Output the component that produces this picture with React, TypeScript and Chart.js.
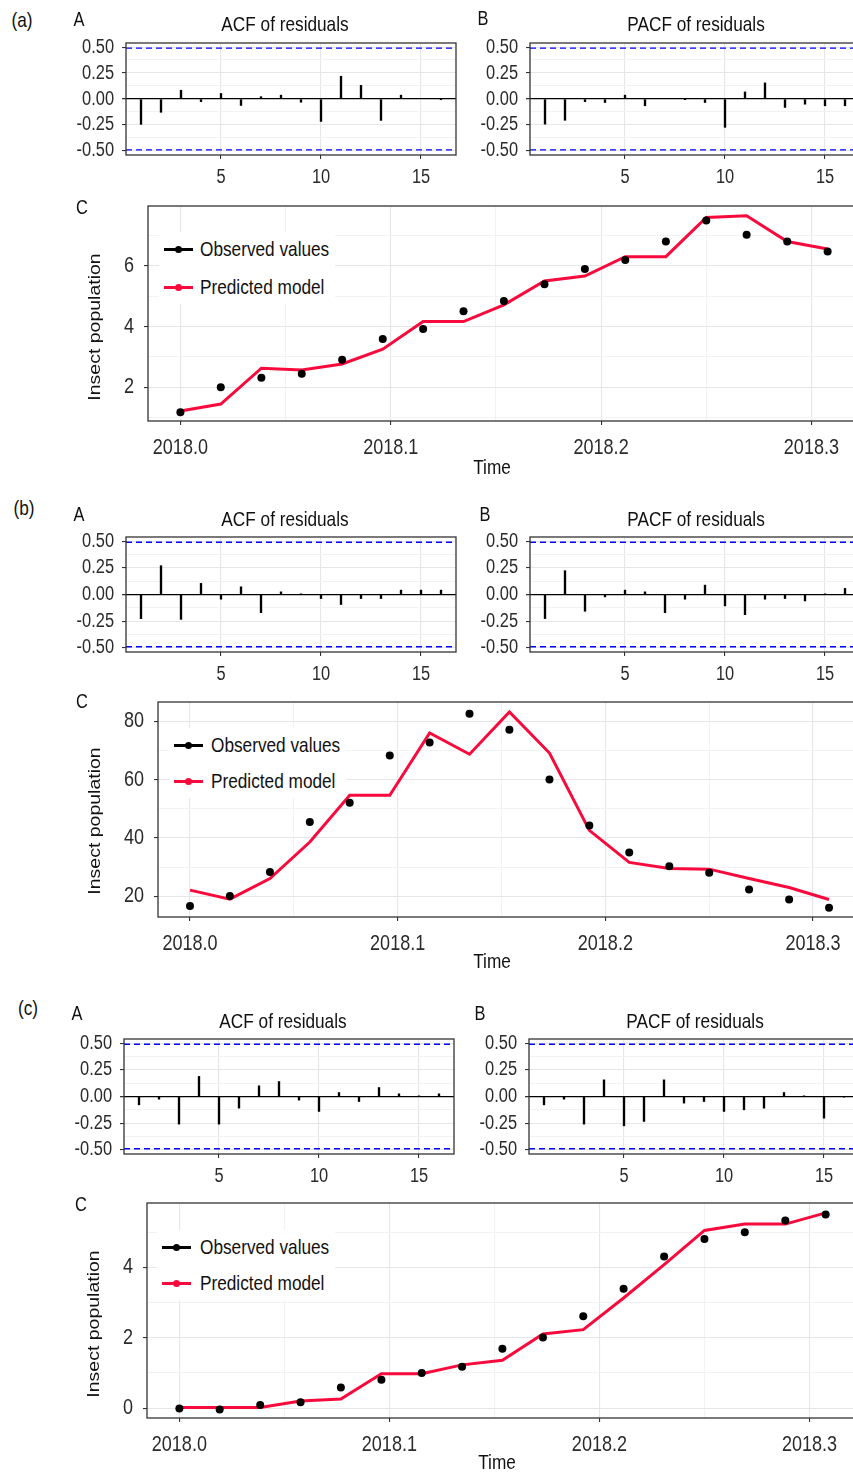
import React, { useEffect, useRef } from "react";
import { Chart, registerables } from "chart.js";

Chart.register(...registerables);

// ---------------- data ----------------
const LAGS = [1, 2, 3, 4, 5, 6, 7, 8, 9, 10, 11, 12, 13, 14, 15, 16];

const ACF_A = [-0.244, -0.128, 0.084, -0.025, 0.053, -0.062, 0.022, 0.037, -0.031, -0.216, 0.219, 0.131, -0.206, 0.037, 0.004, -0.003];
const PACF_A = [-0.242, -0.205, -0.025, -0.034, 0.037, -0.065, 0.003, -0.003, -0.034, -0.273, 0.068, 0.155, -0.081, -0.05, -0.065, -0.065];
const ACF_B = [-0.226, 0.27, -0.233, 0.104, -0.044, 0.072, -0.17, 0.025, 0.004, -0.038, -0.094, -0.038, -0.038, 0.041, 0.041, 0.041];
const PACF_B = [-0.226, 0.223, -0.157, -0.022, 0.041, 0.025, -0.17, -0.044, 0.088, -0.107, -0.189, -0.044, -0.038, -0.06, 0.003, 0.057];
const ACF_C = [-0.078, -0.025, -0.259, 0.188, -0.259, -0.109, 0.1, 0.14, -0.034, -0.14, 0.037, -0.047, 0.084, 0.025, 0.003, 0.025];
const PACF_C = [-0.078, -0.025, -0.259, 0.156, -0.275, -0.234, 0.156, -0.062, -0.047, -0.14, -0.125, -0.109, 0.037, 0.003, -0.203, -0.003];

const CI = 0.49;
const ACF_X_MIN = 0.25;
const ACF_X_MAX = 16.75;
const ACF_Y_LIM = 0.539;
const ACF_X_TICKS = [5, 10, 15];
const ACF_X_LABELS = ["5", "10", "15"];
const ACF_Y_TICKS = [-0.5, -0.375, -0.25, -0.125, 0, 0.125, 0.25, 0.375, 0.5];
const ACF_Y_LABELS = ["-0.50", "", "-0.25", "", "0.00", "", "0.25", "", "0.50"];

const TIME = [2018.0, 2018.0192, 2018.0385, 2018.0577, 2018.0769, 2018.0962, 2018.1154, 2018.1346, 2018.1538, 2018.1731, 2018.1923, 2018.2115, 2018.2308, 2018.25, 2018.2692, 2018.2885, 2018.3077];
const TIME_MIN = 2017.9846;
const TIME_MAX = 2018.3231;
const TIME_TICKS = [2018.0, 2018.05, 2018.1, 2018.15, 2018.2, 2018.25, 2018.3];
const TIME_LABELS = ["2018.0", "", "2018.1", "", "2018.2", "", "2018.3"];

const OBS_A = [1.18, 2.0, 2.32, 2.45, 2.91, 3.59, 3.92, 4.51, 4.85, 5.4, 5.9, 6.2, 6.81, 7.5, 7.03, 6.81, 6.48];
const PRED_A = [1.22, 1.45, 2.63, 2.57, 2.77, 3.26, 4.17, 4.17, 4.72, 5.51, 5.67, 6.31, 6.31, 7.6, 7.66, 6.81, 6.56];
const OBS_B = [16.7, 20.1, 28.3, 45.5, 52.1, 68.3, 72.7, 82.6, 77.1, 60.0, 44.3, 35.0, 30.3, 28.1, 22.3, 18.9, 16.1];
const PRED_B = [22.1, 19.0, 26.1, 38.6, 54.6, 54.6, 76.0, 68.7, 83.2, 69.1, 42.6, 31.6, 29.5, 29.3, 26.1, 23.0, 18.9];
const OBS_C = [-0.01, -0.04, 0.09, 0.17, 0.59, 0.81, 1.0, 1.18, 1.69, 2.01, 2.61, 3.39, 4.31, 4.81, 5.0, 5.33, 5.5];
const PRED_C = [0.02, 0.02, 0.02, 0.2, 0.26, 0.98, 0.98, 1.23, 1.36, 2.11, 2.23, 3.13, 4.08, 5.05, 5.23, 5.23, 5.55];

const TS_A_YTICKS = [1, 2, 3, 4, 5, 6, 7];
const TS_A_YLABELS = ["", "2", "", "4", "", "6", ""];
const TS_B_YTICKS = [20, 30, 40, 50, 60, 70, 80];
const TS_B_YLABELS = ["20", "", "40", "", "60", "", "80"];
const TS_C_YTICKS = [0, 1, 2, 3, 4, 5];
const TS_C_YLABELS = ["0", "", "2", "", "4", ""];

const SERIES_NAMES = ["Observed values", "Predicted model"];

// ---------------- style ----------------
const FONT = "'Liberation Sans', Arial, sans-serif";
const SX = 0.82; // horizontal condensing of the reference lettering
const RED = "#f80a3c";
const GRID_MAJOR = "#e6e6e6";
const GRID_MINOR = "#f2f2f2";
const AXIS = "#333333";
const TICK_TEXT = "#2b2b2b";
const TITLE_TEXT = "#111111";

const YW = 70; // y-axis width in canvas
const PT = 26; // top padding
const PR = 10; // right padding
const XH = 44; // x-axis height

type Area = { L: number; T: number; R: number; B: number };

const framePlugin = {
  id: "frame",
  afterDatasetsDraw(chart: any) {
    const { ctx, chartArea: a } = chart;
    ctx.save();
    ctx.strokeStyle = AXIS;
    ctx.lineWidth = 1.3;
    ctx.strokeRect(a.left, a.top, a.right - a.left, a.bottom - a.top);
    ctx.restore();
  },
};

// condensed tick labels, placed through the chart's own scales
function labelsPlugin(cfg: {
  size: number;
  xTicks: number[];
  xLabels: string[];
  yTicks: number[];
  yLabels: string[];
  xGap: number;
  yGap: number;
}) {
  return {
    id: "condensedLabels",
    afterDraw(chart: any) {
      const { ctx, chartArea: a } = chart;
      const xs = chart.scales.x;
      const ys = chart.scales.y;
      ctx.save();
      ctx.fillStyle = TICK_TEXT;
      ctx.font = `${cfg.size}px ${FONT}`;
      ctx.textBaseline = "middle";
      ctx.textAlign = "right";
      cfg.yTicks.forEach((v, i) => {
        const lab = cfg.yLabels[i];
        if (!lab) return;
        ctx.save();
        ctx.translate(a.left - cfg.yGap, ys.getPixelForValue(v));
        ctx.scale(SX, 1);
        ctx.fillText(lab, 0, 0);
        ctx.restore();
      });
      ctx.textAlign = "center";
      cfg.xTicks.forEach((v, i) => {
        const lab = cfg.xLabels[i];
        if (!lab) return;
        ctx.save();
        ctx.translate(xs.getPixelForValue(v), a.bottom + cfg.xGap);
        ctx.scale(SX, 1);
        ctx.fillText(lab, 0, 0);
        ctx.restore();
      });
      ctx.restore();
    },
  };
}

function yScale(min: number, max: number, ticks: number[], labels: string[], zeroBlack: boolean) {
  return {
    type: "linear",
    min,
    max,
    afterBuildTicks: (s: any) => {
      s.ticks = ticks.map((v) => ({ value: v }));
    },
    afterFit: (s: any) => {
      s.width = YW;
    },
    border: { display: false },
    grid: {
      color: (c: any) => {
        const v = c.tick ? c.tick.value : NaN;
        const i = ticks.indexOf(v);
        if (zeroBlack && v === 0) return "#000";
        return i >= 0 && labels[i] !== "" ? GRID_MAJOR : GRID_MINOR;
      },
      lineWidth: (c: any) => (zeroBlack && c.tick && c.tick.value === 0 ? 1.3 : 1.1),
      tickColor: (c: any) => {
        const i = ticks.indexOf(c.tick ? c.tick.value : NaN);
        return i >= 0 && labels[i] !== "" ? AXIS : "rgba(0,0,0,0)";
      },
      tickLength: 4,
      drawTicks: true,
    },
    ticks: { display: false, autoSkip: false },
  };
}

function acfConfig(values: number[]) {
  return {
    type: "bar",
    data: {
      datasets: [
        {
          type: "bar",
          data: LAGS.map((l, i) => ({ x: l, y: values[i] })),
          backgroundColor: "#000",
          borderWidth: 0,
          barThickness: 1.7,
          grouped: false,
        },
        {
          type: "line",
          data: [
            { x: ACF_X_MIN, y: CI },
            { x: ACF_X_MAX, y: CI },
          ],
          borderColor: "#0000ff",
          borderWidth: 1.4,
          borderDash: [6, 4],
          pointRadius: 0,
        },
        {
          type: "line",
          data: [
            { x: ACF_X_MIN, y: -CI },
            { x: ACF_X_MAX, y: -CI },
          ],
          borderColor: "#0000ff",
          borderWidth: 1.4,
          borderDash: [6, 4],
          pointRadius: 0,
        },
      ],
    },
    options: {
      responsive: false,
      animation: false,
      layout: { padding: { top: PT, right: PR, left: 0, bottom: 0 } },
      plugins: { legend: { display: false }, tooltip: { enabled: false } },
      scales: {
        x: {
          type: "linear",
          min: ACF_X_MIN,
          max: ACF_X_MAX,
          offset: false,
          afterBuildTicks: (s: any) => {
            s.ticks = ACF_X_TICKS.map((v) => ({ value: v }));
          },
          afterFit: (s: any) => {
            s.height = XH;
          },
          border: { display: false },
          grid: { color: GRID_MAJOR, lineWidth: 1.1, tickColor: AXIS, tickLength: 4, offset: false },
          ticks: { display: false, autoSkip: false },
        },
        y: yScale(-ACF_Y_LIM, ACF_Y_LIM, ACF_Y_TICKS, ACF_Y_LABELS, true),
      },
    },
    plugins: [
      framePlugin,
      labelsPlugin({
        size: 20,
        xTicks: ACF_X_TICKS,
        xLabels: ACF_X_LABELS,
        yTicks: ACF_Y_TICKS,
        yLabels: ACF_Y_LABELS,
        xGap: 22,
        yGap: 12,
      }),
    ],
  };
}

function tsConfig(obs: number[], pred: number[], yMin: number, yMax: number, yTicks: number[], yLabels: string[]) {
  return {
    type: "line",
    data: {
      datasets: [
        {
          label: SERIES_NAMES[0],
          data: TIME.map((t, i) => ({ x: t, y: obs[i] })),
          showLine: false,
          pointRadius: 4,
          pointBackgroundColor: "#000",
          pointBorderWidth: 0,
          borderColor: "#000",
        },
        {
          label: SERIES_NAMES[1],
          data: TIME.map((t, i) => ({ x: t, y: pred[i] })),
          borderColor: RED,
          borderWidth: 3,
          pointRadius: 0,
          tension: 0,
        },
      ],
    },
    options: {
      responsive: false,
      animation: false,
      layout: { padding: { top: PT, right: PR, left: 0, bottom: 0 } },
      plugins: { legend: { display: false }, tooltip: { enabled: false } },
      scales: {
        x: {
          type: "linear",
          min: TIME_MIN,
          max: TIME_MAX,
          offset: false,
          afterBuildTicks: (s: any) => {
            s.ticks = TIME_TICKS.map((v) => ({ value: v }));
          },
          afterFit: (s: any) => {
            s.height = XH;
          },
          border: { display: false },
          grid: {
            color: (c: any) => (TIME_LABELS[c.index] ? GRID_MAJOR : GRID_MINOR),
            lineWidth: 1.1,
            tickColor: (c: any) => (TIME_LABELS[c.index] ? AXIS : "rgba(0,0,0,0)"),
            tickLength: 4,
          },
          ticks: { display: false, autoSkip: false },
        },
        y: yScale(yMin, yMax, yTicks, yLabels, false),
      },
    },
    plugins: [
      framePlugin,
      labelsPlugin({
        size: 22,
        xTicks: TIME_TICKS,
        xLabels: TIME_LABELS,
        yTicks,
        yLabels,
        xGap: 27,
        yGap: 14,
      }),
    ],
  };
}

// ---------------- components ----------------
function Plot({ area, config }: { area: Area; config: () => any }) {
  const ref = useRef<HTMLCanvasElement>(null);
  const left = area.L - YW;
  const top = area.T - PT;
  const width = area.R - area.L + YW + PR;
  const height = area.B - area.T + PT + XH;
  useEffect(() => {
    const chart = new Chart(ref.current as HTMLCanvasElement, config());
    return () => chart.destroy();
  }, []);
  return (
    <canvas
      ref={ref}
      width={width}
      height={height}
      style={{ position: "absolute", left, top, width, height }}
    />
  );
}

function Txt({
  x,
  y,
  size,
  text,
  rotate = false,
  color = TITLE_TEXT,
}: {
  x: number;
  y: number;
  size: number;
  text: string;
  rotate?: boolean;
  color?: string;
}) {
  return (
    <div
      style={{
        position: "absolute",
        left: x,
        top: y,
        transform: `translate(-50%, -50%) scaleX(${SX})${rotate ? " rotate(-90deg)" : ""}`,
        fontFamily: FONT,
        fontSize: size,
        lineHeight: "normal",
        whiteSpace: "nowrap",
        color,
      }}
    >
      {text}
    </div>
  );
}

function Legend({ keyL, textL, obsY, predY }: { keyL: number; textL: number; obsY: number; predY: number }) {
  const rows = [
    { name: SERIES_NAMES[0], color: "#000", y: obsY },
    { name: SERIES_NAMES[1], color: RED, y: predY },
  ];
  return (
    <div>
      <div
        style={{
          position: "absolute",
          left: keyL - 5,
          top: obsY - 17,
          width: textL - keyL + 140,
          height: predY - obsY + 34,
          background: "#fff",
        }}
      />
      {rows.map((r) => (
        <div key={r.name}>
          <div
            style={{
              position: "absolute",
              left: keyL,
              top: r.y - 1.5,
              width: 29,
              height: 3,
              background: r.color,
            }}
          />
          <div
            style={{
              position: "absolute",
              left: keyL + 14.5 - 3.5,
              top: r.y - 3.5,
              width: 7,
              height: 7,
              borderRadius: "50%",
              background: r.color,
            }}
          />
          <div
            style={{
              position: "absolute",
              left: textL,
              top: r.y,
              transform: `translateY(-50%) scaleX(${SX})`,
              transformOrigin: "left center",
              fontFamily: FONT,
              fontSize: 21,
              lineHeight: "normal",
              whiteSpace: "nowrap",
              color: TITLE_TEXT,
            }}
          >
            {r.name}
          </div>
        </div>
      ))}
    </div>
  );
}

export default function App() {
  return (
    <div
      style={{
        position: "absolute",
        left: 0,
        top: 0,
        width: 853,
        height: 1472,
        overflow: "hidden",
        background: "#fff",
      }}
    >
      {/* ---------- (a) ---------- */}
      <Plot area={{ L: 126, T: 43, R: 456, B: 155 }} config={() => acfConfig(ACF_A)} />
      <Plot area={{ L: 530, T: 43, R: 860, B: 155 }} config={() => acfConfig(PACF_A)} />
      <Plot
        area={{ L: 148, T: 206, R: 860, B: 421 }}
        config={() => tsConfig(OBS_A, PRED_A, 0.89, 7.98, TS_A_YTICKS, TS_A_YLABELS)}
      />
      <Legend keyL={164} textL={200} obsY={249} predY={287} />

      {/* ---------- (b) ---------- */}
      <Plot area={{ L: 126, T: 537, R: 456, B: 652 }} config={() => acfConfig(ACF_B)} />
      <Plot area={{ L: 530, T: 537, R: 860, B: 652 }} config={() => acfConfig(PACF_B)} />
      <Plot
        area={{ L: 158, T: 702, R: 861, B: 917 }}
        config={() => tsConfig(OBS_B, PRED_B, 12.9, 86.6, TS_B_YTICKS, TS_B_YLABELS)}
      />
      <Legend keyL={174} textL={211} obsY={745} predY={781} />

      {/* ---------- (c) ---------- */}
      <Plot area={{ L: 124, T: 1039, R: 454, B: 1154 }} config={() => acfConfig(ACF_C)} />
      <Plot area={{ L: 529, T: 1039, R: 859, B: 1154 }} config={() => acfConfig(PACF_C)} />
      <Plot
        area={{ L: 147, T: 1203, R: 858, B: 1418 }}
        config={() => tsConfig(OBS_C, PRED_C, -0.28, 5.83, TS_C_YTICKS, TS_C_YLABELS)}
      />
      <Legend keyL={162} textL={200} obsY={1247} predY={1283} />

      {/* ---------- labels ---------- */}
      <Txt x={22} y={20} size={21} text="(a)" />
      <Txt x={24} y={508} size={21} text="(b)" />
      <Txt x={28} y={1008} size={21} text="(c)" />

      <Txt x={79} y={19} size={20} text="A" />
      <Txt x={483} y={18} size={20} text="B" />
      <Txt x={79} y={514} size={20} text="A" />
      <Txt x={485} y={514} size={20} text="B" />
      <Txt x={77} y={1013} size={20} text="A" />
      <Txt x={480} y={1013} size={20} text="B" />

      <Txt x={285} y={24} size={21} text="ACF of residuals" />
      <Txt x={696} y={24} size={21} text="PACF of residuals" />
      <Txt x={285} y={519} size={21} text="ACF of residuals" />
      <Txt x={696} y={519} size={21} text="PACF of residuals" />
      <Txt x={283} y={1021} size={21} text="ACF of residuals" />
      <Txt x={695} y={1021} size={21} text="PACF of residuals" />

      <Txt x={82} y={207} size={20} text="C" />
      <Txt x={82} y={701} size={20} text="C" />
      <Txt x={81} y={1204} size={20} text="C" />

      <Txt x={95} y={327} size={19.5} text="Insect population" rotate />
      <Txt x={95} y={821} size={19.5} text="Insect population" rotate />
      <Txt x={94} y={1324} size={19.5} text="Insect population" rotate />

      <Txt x={492} y={467} size={21} text="Time" />
      <Txt x={492} y={961} size={21} text="Time" />
      <Txt x={497} y={1462} size={21} text="Time" />
    </div>
  );
}
